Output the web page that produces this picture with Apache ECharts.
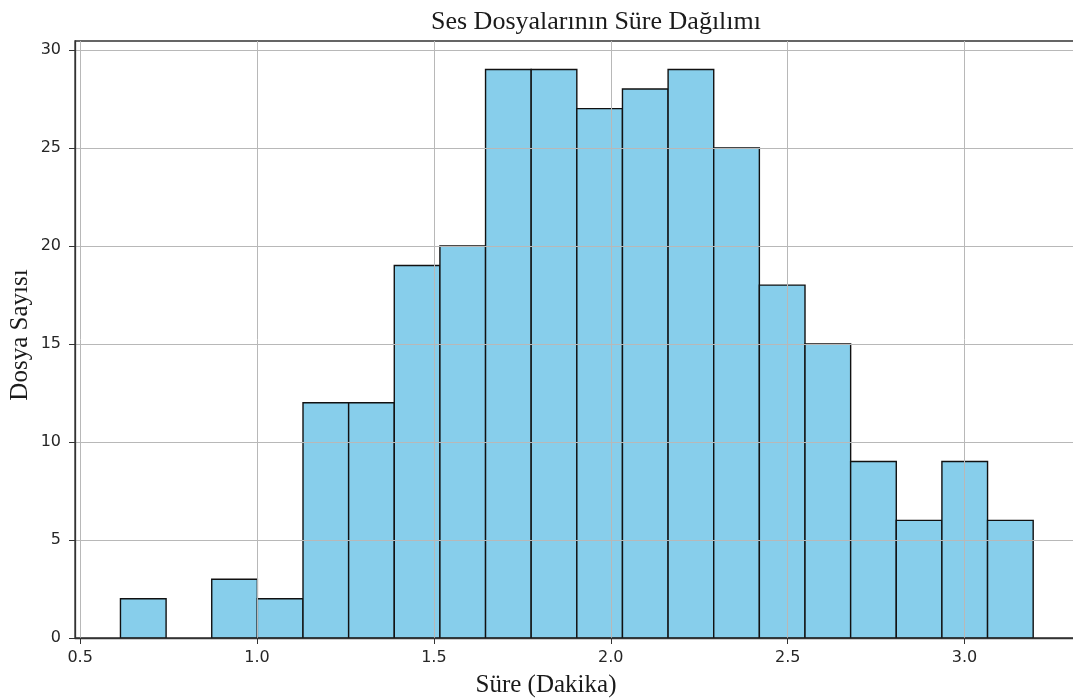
<!DOCTYPE html>
<html>
<head>
<meta charset="utf-8">
<script src="https://cdn.jsdelivr.net/npm/echarts@6/dist/echarts.min.js"></script>
<style>
  html, body { margin: 0; padding: 0; background: #fff; overflow: hidden; }
  #chart { width: 1090px; height: 699px; }
</style>
</head>
<body>
<div id="chart"></div>
<script>
// histogram bins
const binStart = 0.614
const binWidth = 0.129
const counts = [2, 0, 3, 2, 12, 12, 19, 20, 29, 29, 27, 28, 29, 25, 18, 15, 9, 6, 9, 6]
const xTicks = [0.5, 1.0, 1.5, 2.0, 2.5, 3.0]
const yTicks = [0, 5, 10, 15, 20, 25, 30]

const titleText = 'Ses Dosyalarının Süre Dağılımı'
const xName = 'Süre (Dakika)'
const yName = 'Dosya Sayısı'

const bins = counts.map(function (c, i) {
  return [binStart + i * binWidth, binStart + (i + 1) * binWidth, c]
})

const chart = echarts.init(document.getElementById('chart'), null, { renderer: 'canvas' })

const serif = '"Liberation Serif", "DejaVu Serif", serif'
const sans = '"DejaVu Sans", sans-serif'

const option = {
  backgroundColor: '#fff',
  animation: false,
  title: {
    text: titleText,
    left: 591,
    top: 4,
    textAlign: 'center',
    textStyle: { fontFamily: serif, fontWeight: 'normal', fontSize: 26, color: '#1a1a1a' }
  },
  grid: {
    left: 75,
    top: 41,
    width: 1004,
    height: 597,
    show: true,
    borderColor: '#333',
    borderWidth: 1.3,
    containLabel: false
  },
  xAxis: {
    type: 'value',
    min: 0.4855,
    max: 3.3235,
    z: 5,
    axisLine: { show: true, onZero: false, lineStyle: { color: '#333', width: 1.3 } },
    axisTick: { show: true, length: 6, customValues: xTicks, lineStyle: { color: '#333' } },
    axisLabel: {
      customValues: xTicks,
      margin: 12,
      fontSize: 16,
      fontFamily: sans,
      color: '#262626',
      formatter: function (v) { return v.toFixed(1) }
    },
    splitLine: { show: true, lineStyle: { color: '#b8b8b8', width: 1 } }
  },
  yAxis: {
    type: 'value',
    min: 0,
    max: 30.45,
    z: 5,
    axisLine: { show: true, lineStyle: { color: '#333', width: 1.3 } },
    axisTick: { show: true, length: 6, customValues: yTicks, lineStyle: { color: '#333' } },
    axisLabel: {
      customValues: yTicks,
      margin: 14,
      fontSize: 16,
      fontFamily: sans,
      color: '#262626'
    },
    splitLine: { show: true, lineStyle: { color: '#b8b8b8', width: 1 } }
  },
  graphic: [
    {
      type: 'text',
      x: 546,
      y: 685,
      style: { text: xName, font: '25px ' + serif, fill: '#1a1a1a', align: 'center', verticalAlign: 'middle' }
    },
    {
      type: 'text',
      x: 20,
      y: 335,
      rotation: Math.PI / 2,
      style: { text: yName, font: '25px ' + serif, fill: '#1a1a1a', align: 'center', verticalAlign: 'middle' }
    }
  ],
  series: [
    {
      type: 'custom',
      z: 2,
      data: bins,
      encode: { x: [0, 1], y: 2 },
      renderItem: function (params, api) {
        const top = api.coord([api.value(0), api.value(2)])
        const bottom = api.coord([api.value(1), 0])
        if (api.value(2) === 0) return null
        return {
          type: 'rect',
          shape: { x: top[0], y: top[1], width: bottom[0] - top[0], height: bottom[1] - top[1] },
          style: { fill: '#87ceeb', stroke: '#111', lineWidth: 1.4 }
        }
      }
    }
  ]
}

chart.setOption(option)
</script>
</body>
</html>
